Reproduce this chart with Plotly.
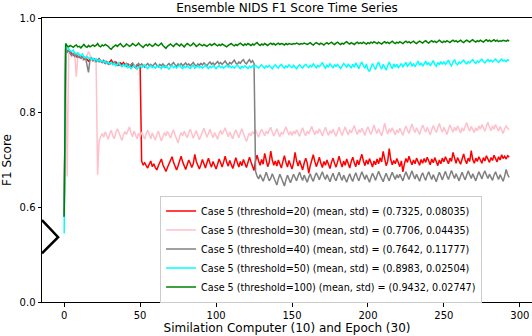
import plotly.graph_objects as go

# F1 score per epoch
red_t20 = [
    0.580, 0.936, 0.931, 0.926, 0.929, 0.924, 0.921, 0.925, 0.918, 0.921,
    0.917, 0.920, 0.915, 0.912, 0.916, 0.913, 0.909, 0.912, 0.915, 0.910,
    0.913, 0.908, 0.911, 0.914, 0.909, 0.906, 0.910, 0.905, 0.908, 0.903,
    0.907, 0.911, 0.906, 0.903, 0.907, 0.904, 0.900, 0.905, 0.902, 0.906,
    0.901, 0.898, 0.903, 0.900, 0.896, 0.902, 0.899, 0.895, 0.901, 0.898,
    0.902, 0.697, 0.690, 0.694, 0.688, 0.683, 0.691, 0.698, 0.686, 0.692,
    0.684, 0.679, 0.688, 0.695, 0.702, 0.690, 0.681, 0.676, 0.684, 0.691,
    0.697, 0.707, 0.695, 0.686, 0.679, 0.688, 0.699, 0.708, 0.696, 0.687,
    0.680, 0.690, 0.700, 0.693, 0.684, 0.692, 0.712, 0.697, 0.688, 0.681,
    0.690, 0.701, 0.692, 0.683, 0.694, 0.704, 0.693, 0.685, 0.697, 0.689,
    0.681, 0.691, 0.702, 0.694, 0.685, 0.696, 0.708, 0.695, 0.687, 0.699,
    0.690, 0.682, 0.693, 0.705, 0.694, 0.685, 0.697, 0.688, 0.701, 0.692,
    0.684, 0.695, 0.706, 0.696, 0.686, 0.678, 0.699, 0.710, 0.698, 0.689,
    0.701, 0.691, 0.714, 0.697, 0.686, 0.695, 0.719, 0.700, 0.689, 0.698,
    0.687, 0.700, 0.691, 0.683, 0.697, 0.709, 0.695, 0.685, 0.699, 0.690,
    0.681, 0.694, 0.716, 0.698, 0.687, 0.699, 0.690, 0.679, 0.693, 0.704,
    0.694, 0.672, 0.688, 0.699, 0.711, 0.697, 0.686, 0.695, 0.706, 0.693,
    0.684, 0.697, 0.689, 0.700, 0.691, 0.682, 0.695, 0.704, 0.693, 0.685,
    0.696, 0.708, 0.695, 0.685, 0.698, 0.689, 0.702, 0.692, 0.683, 0.697,
    0.706, 0.694, 0.686, 0.700, 0.690, 0.702, 0.712, 0.698, 0.688, 0.700,
    0.691, 0.703, 0.693, 0.685, 0.698, 0.690, 0.702, 0.692, 0.705, 0.696,
    0.718, 0.699, 0.688, 0.697, 0.724, 0.701, 0.690, 0.699, 0.692, 0.703,
    0.694, 0.686, 0.698, 0.675, 0.692, 0.703, 0.695, 0.708, 0.698, 0.690,
    0.700, 0.692, 0.704, 0.697, 0.689, 0.701, 0.693, 0.703, 0.695, 0.706,
    0.698, 0.690, 0.702, 0.694, 0.705, 0.698, 0.688, 0.700, 0.692, 0.704,
    0.696, 0.707, 0.700, 0.692, 0.704, 0.697, 0.716, 0.701, 0.693, 0.705,
    0.698, 0.691, 0.702, 0.713, 0.700, 0.692, 0.704, 0.697, 0.720, 0.701,
    0.693, 0.704, 0.697, 0.707, 0.700, 0.693, 0.705, 0.698, 0.709, 0.701,
    0.695, 0.705, 0.699, 0.710, 0.702, 0.696, 0.707, 0.700, 0.711, 0.703,
    0.708, 0.702, 0.709, 0.706,
]

pink_t30 = [
    0.600, 0.940, 0.665, 0.930, 0.924, 0.918, 0.926, 0.921, 0.876, 0.918,
    0.925, 0.916, 0.912, 0.920, 0.914, 0.924, 0.929, 0.922, 0.915, 0.911,
    0.908, 0.912, 0.669, 0.740, 0.749, 0.756, 0.748, 0.759, 0.752, 0.744,
    0.755, 0.763, 0.751, 0.745, 0.757, 0.766, 0.758, 0.747, 0.741, 0.753,
    0.760, 0.754, 0.764, 0.770, 0.757, 0.749, 0.761, 0.753, 0.745, 0.757,
    0.749, 0.759, 0.752, 0.744, 0.756, 0.763, 0.754, 0.745, 0.757, 0.751,
    0.742, 0.753, 0.761, 0.750, 0.740, 0.749, 0.758, 0.751, 0.760, 0.754,
    0.746, 0.756, 0.764, 0.753, 0.743, 0.736, 0.749, 0.758, 0.751, 0.761,
    0.754, 0.747, 0.757, 0.765, 0.756, 0.746, 0.754, 0.762, 0.752, 0.743,
    0.751, 0.760, 0.767, 0.758, 0.748, 0.756, 0.765, 0.755, 0.747, 0.758,
    0.752, 0.744, 0.755, 0.763, 0.754, 0.761, 0.768, 0.757, 0.749, 0.759,
    0.753, 0.745, 0.756, 0.764, 0.755, 0.747, 0.758, 0.766, 0.756, 0.748,
    0.739, 0.749, 0.757, 0.751, 0.760, 0.755, 0.763, 0.756, 0.748, 0.758,
    0.765, 0.758, 0.751, 0.761, 0.755, 0.763, 0.769, 0.759, 0.751, 0.758,
    0.766, 0.757, 0.749, 0.759, 0.754, 0.763, 0.770, 0.761, 0.753, 0.760,
    0.752, 0.761, 0.755, 0.764, 0.758, 0.750, 0.760, 0.768, 0.758, 0.751,
    0.761, 0.755, 0.763, 0.771, 0.761, 0.753, 0.762, 0.756, 0.766, 0.759,
    0.751, 0.761, 0.769, 0.759, 0.752, 0.762, 0.756, 0.765, 0.757, 0.750,
    0.760, 0.769, 0.759, 0.752, 0.762, 0.770, 0.760, 0.753, 0.764, 0.757,
    0.765, 0.773, 0.761, 0.754, 0.764, 0.758, 0.767, 0.759, 0.752, 0.763,
    0.770, 0.761, 0.754, 0.764, 0.774, 0.763, 0.756, 0.766, 0.759, 0.751,
    0.763, 0.778, 0.764, 0.755, 0.766, 0.759, 0.768, 0.760, 0.753, 0.764,
    0.757, 0.767, 0.760, 0.752, 0.763, 0.772, 0.763, 0.756, 0.767, 0.776,
    0.765, 0.758, 0.768, 0.761, 0.754, 0.765, 0.774, 0.766, 0.759, 0.769,
    0.761, 0.753, 0.764, 0.773, 0.765, 0.758, 0.768, 0.777, 0.766, 0.759,
    0.769, 0.762, 0.754, 0.765, 0.774, 0.766, 0.759, 0.769, 0.762, 0.772,
    0.764, 0.757, 0.768, 0.761, 0.771, 0.779, 0.768, 0.761, 0.771, 0.764,
    0.758, 0.768, 0.762, 0.772, 0.765, 0.775, 0.767, 0.761, 0.771, 0.780,
    0.769, 0.762, 0.772, 0.765, 0.775, 0.768, 0.761, 0.771, 0.765, 0.756,
    0.766, 0.772, 0.767, 0.764,
]

gray_t40 = [
    0.580, 0.935, 0.928, 0.932, 0.925, 0.921, 0.926, 0.919, 0.923, 0.917,
    0.920, 0.915, 0.918, 0.913, 0.917, 0.900, 0.885, 0.912, 0.915, 0.910,
    0.913, 0.908, 0.911, 0.907, 0.910, 0.906, 0.909, 0.904, 0.908, 0.905,
    0.902, 0.906, 0.903, 0.907, 0.904, 0.900, 0.905, 0.902, 0.898, 0.903,
    0.900, 0.904, 0.901, 0.897, 0.902, 0.905, 0.900, 0.896, 0.901, 0.904,
    0.899, 0.903, 0.900, 0.896, 0.901, 0.904, 0.899, 0.902, 0.898, 0.902,
    0.905, 0.900, 0.897, 0.902, 0.899, 0.903, 0.900, 0.896, 0.901, 0.904,
    0.899, 0.902, 0.906, 0.901, 0.898, 0.903, 0.900, 0.904, 0.899, 0.902,
    0.905, 0.900, 0.903, 0.899, 0.902, 0.906, 0.901, 0.898, 0.903, 0.900,
    0.904, 0.901, 0.905, 0.902, 0.899, 0.904, 0.907, 0.902, 0.905, 0.901,
    0.904, 0.908, 0.903, 0.906, 0.902, 0.905, 0.909, 0.904, 0.901, 0.906,
    0.903, 0.907, 0.911, 0.905, 0.902, 0.907, 0.904, 0.909, 0.912, 0.906,
    0.903, 0.908, 0.912, 0.906, 0.910, 0.904, 0.676, 0.666, 0.660, 0.669,
    0.662, 0.655, 0.664, 0.674, 0.665, 0.656, 0.661, 0.671, 0.663, 0.654,
    0.647, 0.660, 0.670, 0.662, 0.653, 0.645, 0.658, 0.668, 0.660, 0.652,
    0.661, 0.670, 0.663, 0.656, 0.666, 0.674, 0.664, 0.657, 0.668, 0.660,
    0.653, 0.663, 0.671, 0.661, 0.655, 0.665, 0.673, 0.666, 0.658, 0.668,
    0.675, 0.665, 0.659, 0.669, 0.661, 0.654, 0.664, 0.672, 0.662, 0.656,
    0.666, 0.674, 0.664, 0.657, 0.668, 0.660, 0.653, 0.663, 0.671, 0.661,
    0.655, 0.665, 0.673, 0.663, 0.656, 0.666, 0.675, 0.667, 0.659, 0.669,
    0.661, 0.653, 0.663, 0.672, 0.665, 0.657, 0.667, 0.676, 0.668, 0.660,
    0.654, 0.664, 0.672, 0.663, 0.656, 0.666, 0.674, 0.666, 0.659, 0.669,
    0.662, 0.670, 0.664, 0.656, 0.666, 0.675, 0.667, 0.659, 0.669, 0.677,
    0.667, 0.660, 0.670, 0.662, 0.655, 0.666, 0.673, 0.664, 0.657, 0.668,
    0.675, 0.666, 0.659, 0.669, 0.661, 0.654, 0.665, 0.674, 0.666, 0.658,
    0.668, 0.676, 0.666, 0.659, 0.669, 0.678, 0.669, 0.661, 0.671, 0.664,
    0.656, 0.666, 0.674, 0.665, 0.658, 0.668, 0.677, 0.669, 0.661, 0.671,
    0.663, 0.656, 0.666, 0.675, 0.668, 0.660, 0.670, 0.677, 0.668, 0.661,
    0.670, 0.664, 0.657, 0.668, 0.675, 0.666, 0.659, 0.669, 0.662, 0.655,
    0.666, 0.680, 0.669, 0.663,
]

cyan_t50 = [
    0.545, 0.946, 0.938, 0.934, 0.931, 0.929, 0.932, 0.926, 0.924, 0.927,
    0.922, 0.920, 0.924, 0.918, 0.916, 0.919, 0.914, 0.917, 0.912, 0.915,
    0.911, 0.914, 0.909, 0.912, 0.908, 0.910, 0.906, 0.909, 0.904, 0.907,
    0.903, 0.906, 0.901, 0.904, 0.899, 0.902, 0.905, 0.900, 0.897, 0.901,
    0.898, 0.902, 0.895, 0.899, 0.893, 0.897, 0.900, 0.896, 0.892, 0.897,
    0.899, 0.895, 0.898, 0.901, 0.896, 0.893, 0.897, 0.900, 0.895, 0.898,
    0.894, 0.897, 0.900, 0.896, 0.893, 0.898, 0.895, 0.899, 0.896, 0.892,
    0.897, 0.900, 0.895, 0.898, 0.894, 0.897, 0.901, 0.896, 0.893, 0.898,
    0.895, 0.899, 0.896, 0.893, 0.897, 0.900, 0.894, 0.897, 0.899, 0.895,
    0.898, 0.894, 0.897, 0.900, 0.896, 0.893, 0.898, 0.895, 0.899, 0.896,
    0.893, 0.897, 0.900, 0.895, 0.898, 0.894, 0.897, 0.900, 0.896, 0.899,
    0.895, 0.898, 0.894, 0.897, 0.901, 0.896, 0.893, 0.898, 0.895, 0.899,
    0.896, 0.893, 0.898, 0.895, 0.899, 0.896, 0.900, 0.897, 0.894, 0.898,
    0.901, 0.897, 0.894, 0.899, 0.896, 0.900, 0.897, 0.893, 0.898, 0.901,
    0.897, 0.894, 0.899, 0.902, 0.897, 0.894, 0.899, 0.896, 0.901, 0.898,
    0.895, 0.900, 0.897, 0.893, 0.898, 0.901, 0.897, 0.894, 0.899, 0.902,
    0.898, 0.895, 0.900, 0.897, 0.903, 0.899, 0.895, 0.900, 0.897, 0.901,
    0.906, 0.899, 0.894, 0.900, 0.897, 0.903, 0.898, 0.895, 0.901, 0.898,
    0.902, 0.897, 0.893, 0.899, 0.904, 0.900, 0.896, 0.902, 0.898, 0.895,
    0.902, 0.896, 0.905, 0.898, 0.893, 0.902, 0.907, 0.899, 0.894, 0.903,
    0.891, 0.887, 0.895, 0.904, 0.897, 0.891, 0.901, 0.907, 0.898, 0.892,
    0.902, 0.895, 0.890, 0.899, 0.907, 0.899, 0.893, 0.903, 0.896, 0.902,
    0.895, 0.899, 0.904, 0.897, 0.901, 0.906, 0.898, 0.902, 0.906, 0.899,
    0.903, 0.897, 0.904, 0.909, 0.900, 0.905, 0.898, 0.904, 0.909, 0.901,
    0.906, 0.899, 0.905, 0.910, 0.902, 0.898, 0.906, 0.901, 0.908, 0.902,
    0.908, 0.902, 0.906, 0.911, 0.903, 0.899, 0.907, 0.912, 0.904, 0.901,
    0.907, 0.904, 0.908, 0.911, 0.906, 0.903, 0.908, 0.905, 0.909, 0.912,
    0.907, 0.904, 0.909, 0.906, 0.910, 0.913, 0.908, 0.905, 0.909, 0.912,
    0.908, 0.911, 0.907, 0.910, 0.913, 0.909, 0.906, 0.910, 0.913, 0.909,
    0.911, 0.908, 0.912, 0.910,
]

green_t100 = [
    0.580, 0.946, 0.941, 0.939, 0.942, 0.940, 0.938, 0.941, 0.943, 0.939,
    0.940, 0.937, 0.941, 0.944, 0.940, 0.938, 0.942, 0.939, 0.941, 0.943,
    0.940, 0.942, 0.946, 0.941, 0.939, 0.943, 0.941, 0.944, 0.942, 0.940,
    0.936, 0.934, 0.938, 0.941, 0.943, 0.940, 0.944, 0.946, 0.942, 0.939,
    0.941, 0.945, 0.943, 0.940, 0.942, 0.946, 0.944, 0.941, 0.943, 0.947,
    0.943, 0.940, 0.938, 0.942, 0.944, 0.941, 0.945, 0.943, 0.940, 0.942,
    0.946, 0.943, 0.941, 0.944, 0.947, 0.942, 0.939, 0.936, 0.940, 0.943,
    0.945, 0.942, 0.940, 0.944, 0.946, 0.943, 0.941, 0.945, 0.942, 0.939,
    0.943, 0.946, 0.944, 0.941, 0.943, 0.947, 0.944, 0.940, 0.942, 0.945,
    0.943, 0.941, 0.944, 0.942, 0.940, 0.943, 0.945, 0.942, 0.944, 0.946,
    0.943, 0.941, 0.944, 0.942, 0.945, 0.943, 0.941, 0.939, 0.942, 0.944,
    0.946, 0.943, 0.941, 0.944, 0.942, 0.945, 0.947, 0.944, 0.942, 0.945,
    0.943, 0.946, 0.944, 0.942, 0.945, 0.943, 0.946, 0.948, 0.944, 0.942,
    0.945, 0.943, 0.946, 0.944, 0.942, 0.945, 0.947, 0.944, 0.946, 0.943,
    0.945, 0.947, 0.944, 0.946, 0.945, 0.943, 0.946, 0.944, 0.946, 0.945,
    0.944, 0.946, 0.945, 0.947, 0.945, 0.944, 0.946, 0.945, 0.947, 0.946,
    0.944, 0.946, 0.948, 0.945, 0.943, 0.946, 0.948, 0.946, 0.944, 0.947,
    0.945, 0.943, 0.946, 0.948, 0.945, 0.947, 0.949, 0.946, 0.944, 0.947,
    0.949, 0.946, 0.944, 0.947, 0.945, 0.948, 0.950, 0.947, 0.945, 0.948,
    0.946, 0.944, 0.947, 0.949, 0.946, 0.948, 0.946, 0.949, 0.947, 0.945,
    0.948, 0.946, 0.949, 0.947, 0.950, 0.948, 0.946, 0.949, 0.947, 0.945,
    0.948, 0.950, 0.947, 0.949, 0.946, 0.948, 0.951, 0.948, 0.946, 0.949,
    0.947, 0.950, 0.948, 0.946, 0.949, 0.951, 0.948, 0.950, 0.947, 0.949,
    0.951, 0.948, 0.946, 0.949, 0.951, 0.949, 0.947, 0.950, 0.952, 0.949,
    0.947, 0.950, 0.952, 0.949, 0.951, 0.948, 0.950, 0.953, 0.950, 0.948,
    0.951, 0.949, 0.952, 0.950, 0.948, 0.951, 0.953, 0.950, 0.952, 0.949,
    0.951, 0.953, 0.950, 0.948, 0.951, 0.953, 0.951, 0.949, 0.952, 0.954,
    0.951, 0.949, 0.952, 0.950, 0.953, 0.951, 0.949, 0.952, 0.954, 0.951,
    0.953, 0.950, 0.952, 0.954, 0.951, 0.953, 0.950, 0.952, 0.951, 0.953,
    0.952, 0.951, 0.953, 0.951,
]

series_names = [
    "Case 5 (threshold=20) (mean, std) = (0.7325, 0.08035)",
    "Case 5 (threshold=30) (mean, std) = (0.7706, 0.04435)",
    "Case 5 (threshold=40) (mean, std) = (0.7642, 0.11777)",
    "Case 5 (threshold=50) (mean, std) = (0.8983, 0.02504)",
    "Case 5 (threshold=100) (mean, std) = (0.9432, 0.02747)",
]
series_values = [red_t20, pink_t30, gray_t40, cyan_t50, green_t100]
series_colors = ["red", "pink", "gray", "cyan", "green"]

# y axis is really 0.4..1.0; the bottom tick is relabelled 0.0 (broken axis)
y_tick_vals = [0.4, 0.6, 0.8, 1.0]
y_tick_text = ["0.0", "0.6", "0.8", "1.0"]
x_tick_vals = [0, 50, 100, 150, 200, 250, 300]

FONT = "DejaVu Sans"

fig = go.Figure()
for name, vals, col in zip(series_names, series_values, series_colors):
    fig.add_trace(go.Scatter(
        x=list(range(len(vals))),
        y=vals,
        mode="lines",
        name=name,
        line=dict(color=col, width=1.5),
    ))

# the axis-break zigzag on the left spine
fig.add_shape(
    type="path",
    path="M -14.6,0.573 L -4,0.537 L -14.6,0.503",
    xref="x", yref="y",
    line=dict(color="black", width=2.5),
)

fig.update_layout(
    width=532, height=336,
    margin=dict(l=42, r=0, t=18, b=34, autoexpand=False),
    paper_bgcolor="white",
    plot_bgcolor="white",
    font=dict(family=FONT, size=10, color="black"),
    title=dict(
        text="Ensemble NIDS F1 Score Time Series",
        x=0.5395, xanchor="center",
        y=0.978, yanchor="middle",
        font=dict(size=12),
    ),
    legend=dict(
        x=0.241, y=0.375, xanchor="left", yanchor="top",
        bgcolor="rgba(255,255,255,0.8)",
        bordercolor="#cccccc", borderwidth=1,
        font=dict(size=9.6),
    ),
    xaxis=dict(
        range=[-14.6, 308],
        tickvals=x_tick_vals,
        showgrid=False, zeroline=False,
        showline=True, linecolor="black", linewidth=1, mirror=True,
        ticks="outside", ticklen=3.5, tickcolor="black",
        automargin=False,
        title=dict(text="Similation Computer (10) and Epoch (30)", standoff=4),
    ),
    yaxis=dict(
        range=[0.4, 1.0],
        tickvals=y_tick_vals,
        ticktext=y_tick_text,
        showgrid=False, zeroline=False,
        showline=True, linecolor="black", linewidth=1,
        ticks="outside", ticklen=3.5, tickcolor="black",
        automargin=False,
        title=dict(text="F1 Score", standoff=6),
    ),
)

# drop the page's default body margin so the figure sits at the window corner
fig.write_html(
    "out.html",
    config={"displayModeBar": False},
    post_script="document.body.style.margin='0';",
)
